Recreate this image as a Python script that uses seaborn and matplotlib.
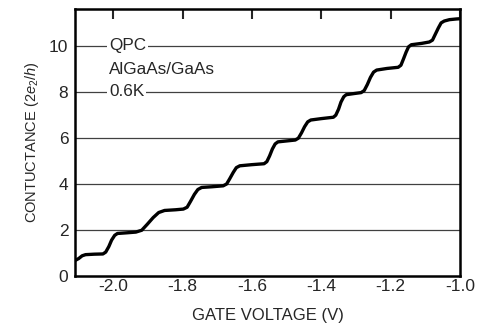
import numpy as np
import pandas as pd
import seaborn as sns
import matplotlib
matplotlib.use('Agg')
import matplotlib.pyplot as plt

# conductance trace (gate voltage V, conductance 2e^2/h)
gate_v = [-2.110, -2.100, -2.090, -2.080, -2.055, -2.030,
          -2.022, -2.013, -2.005, -1.996, -1.988, -1.960, -1.935,
          -1.918, -1.902, -1.885, -1.869, -1.852, -1.820, -1.798,
          -1.787, -1.777, -1.766, -1.756, -1.745, -1.715, -1.683,
          -1.673, -1.664, -1.654, -1.645, -1.635, -1.600, -1.565,
          -1.557, -1.549, -1.541, -1.533, -1.525, -1.500, -1.475,
          -1.466, -1.457, -1.448, -1.439, -1.430, -1.400, -1.365,
          -1.358, -1.350, -1.343, -1.335, -1.328, -1.305, -1.285,
          -1.276, -1.267, -1.258, -1.249, -1.240, -1.210, -1.178,
          -1.170, -1.163, -1.155, -1.148, -1.140, -1.110, -1.088,
          -1.079, -1.071, -1.062, -1.054, -1.045, -1.030, -1.010, -1.000]
conductance = [0.68, 0.76, 0.88, 0.93, 0.95, 0.96,
               1.04, 1.28, 1.56, 1.77, 1.85, 1.88, 1.91,
               1.99, 2.25, 2.54, 2.76, 2.85, 2.88, 2.91,
               2.99, 3.25, 3.55, 3.76, 3.85, 3.88, 3.92,
               4.00, 4.23, 4.50, 4.71, 4.79, 4.84, 4.88,
               4.97, 5.22, 5.52, 5.74, 5.83, 5.87, 5.91,
               5.99, 6.22, 6.49, 6.70, 6.78, 6.84, 6.90,
               6.99, 7.25, 7.56, 7.79, 7.88, 7.93, 7.97,
               8.06, 8.32, 8.63, 8.86, 8.95, 9.02, 9.07,
               9.16, 9.42, 9.73, 9.96, 10.05, 10.11, 10.17,
               10.25, 10.50, 10.78, 11.00, 11.08, 11.14, 11.17, 11.18]

x_ticks = [-2.0, -1.8, -1.6, -1.4, -1.2, -1.0]
y_ticks = [0, 2, 4, 6, 8, 10]
notes = ['QPC', 'AlGaAs/GaAs', '0.6K']
note_y = [10, 8.98, 8]

df = pd.DataFrame({'V': gate_v, 'G': conductance})

sns.set_style('white')
plt.rcParams['font.family'] = ['Liberation Sans', 'DejaVu Sans']
plt.rcParams['mathtext.fontset'] = 'custom'
plt.rcParams['mathtext.rm'] = 'Liberation Sans'
plt.rcParams['mathtext.it'] = 'Liberation Sans:italic'

fig = plt.figure(figsize=(4.79, 3.24), dpi=100)
ax = fig.add_axes([0.157, 0.148, 0.803, 0.824])

for yv in y_ticks[1:]:
    ax.axhline(yv, color='0.25', lw=0.9, zorder=1)

sns.lineplot(data=df, x='V', y='G', ax=ax, color='black', lw=2.4, zorder=3)

for txt, yv in zip(notes, note_y):
    ax.text(-2.012, yv, txt, fontsize=12.3, va='center', ha='left', zorder=2,
            bbox=dict(facecolor='white', edgecolor='none', pad=1.5))

ax.set_xlim(-2.11, -1.0)
ax.set_ylim(0, 11.6)
ax.set_xticks(x_ticks)
ax.set_xticklabels(['%.1f' % v for v in x_ticks])
ax.set_yticks(y_ticks)
ax.tick_params(axis='x', direction='in', length=7, width=1.5, top=True,
               labelsize=12.5, pad=2)
ax.tick_params(axis='y', length=0, labelsize=12.5, pad=5)
for s in ax.spines.values():
    s.set_linewidth(1.8)
    s.set_color('black')

ax.set_xlabel('GATE VOLTAGE (V)', fontsize=12, labelpad=10)
ax.set_ylabel(r'CONTUCTANCE (2$e_2$/$h$)', fontsize=10.5, labelpad=6)

fig.savefig('out.png', dpi=100)
